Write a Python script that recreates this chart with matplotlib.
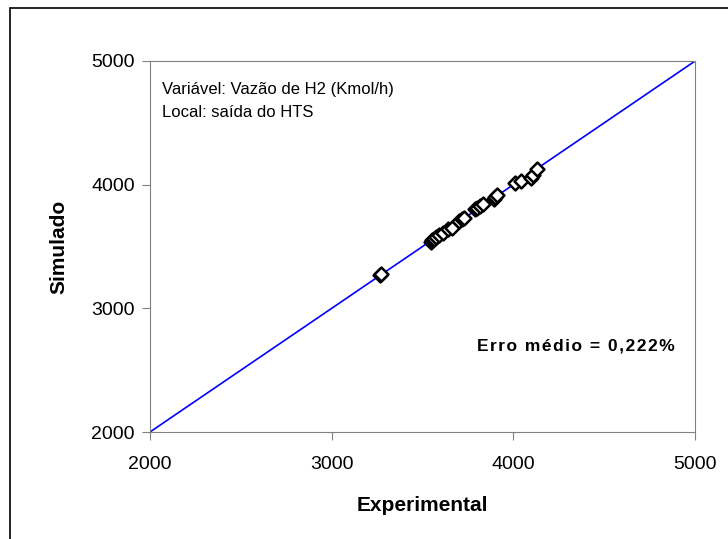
import matplotlib
matplotlib.use("Agg")
import matplotlib.pyplot as plt
from matplotlib.patches import Rectangle

plt.rcParams['font.family'] = ['Liberation Sans', 'DejaVu Sans']

# H2 flow at HTS outlet (Kmol/h)
experimental = [3265, 3270, 3545, 3550, 3560, 3575, 3590, 3610, 3640, 3660,
                3700, 3715, 3730, 3790, 3800, 3815, 3830, 3895, 3900, 3910,
                4010, 4040, 4095, 4105, 4130]
simulado = [3270, 3275, 3540, 3555, 3560, 3575, 3590, 3610, 3640, 3650,
            3705, 3720, 3730, 3800, 3810, 3830, 3840, 3880, 3900, 3920,
            4010, 4030, 4050, 4080, 4125]
ref_line = [2000, 5000]
ticks = [2000, 3000, 4000, 5000]


def spaced(s, sp='\u200a'):
    # excel renders this label with a bit of letter spacing
    return sp.join(s)


fig = plt.figure(figsize=(7.28, 5.39), dpi=100)
# outer chart frame
fig.patches.append(Rectangle((0.014, -0.1), 1.2, 1.085, transform=fig.transFigure,
                             fill=False, edgecolor='black', linewidth=1.2))

ax = fig.add_axes([0.206, 0.1985, 0.749, 0.6885])
ax.plot(ref_line, ref_line, color='#0000ff', linewidth=1.2, zorder=2)
ax.scatter(experimental, simulado, marker='D', s=50, facecolors='white',
           edgecolors='black', linewidths=1.8, zorder=3)

ax.set_xlim(2000, 5000)
ax.set_ylim(2000, 5000)
ax.set_xticks(ticks)
ax.set_yticks(ticks)
ax.tick_params(direction='out', length=6, labelsize=14, color='#808080')
ax.tick_params(axis='x', pad=11)
ax.tick_params(axis='y', pad=5)
for s in ax.spines.values():
    s.set_color('#808080')

ax.set_xlabel('Experimental', fontsize=15, fontweight='bold', labelpad=17)
ax.set_ylabel('Simulado', fontsize=15, fontweight='bold', labelpad=16)

ax.text(0.022, 0.922, 'Variável: Vazão de H2 (Kmol/h)', transform=ax.transAxes,
        fontsize=12, va='center')
ax.text(0.022, 0.86, 'Local: saída do HTS', transform=ax.transAxes,
        fontsize=12, va='center')
ax.text(0.963, 0.232, spaced('Erro médio = 0,222%'), transform=ax.transAxes,
        fontsize=12.5, fontweight='bold', ha='right', va='center')

fig.savefig('out.png', dpi=100)
